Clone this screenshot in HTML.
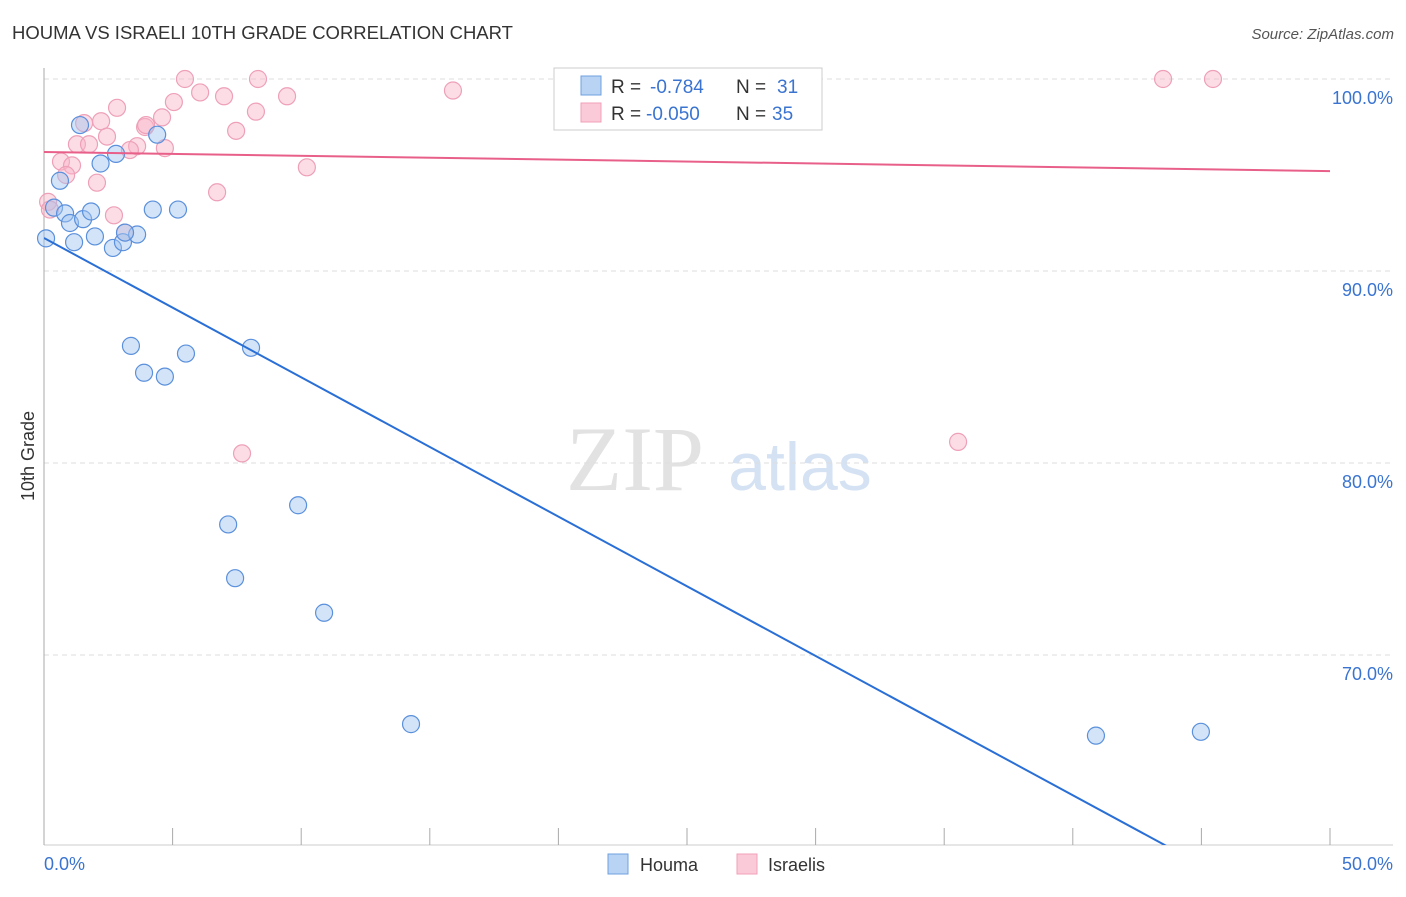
<!DOCTYPE html>
<html><head><meta charset="utf-8"><style>
body{margin:0;background:#fff;font-family:"Liberation Sans",sans-serif;}
</style></head><body>
<svg width="1406" height="892" xmlns="http://www.w3.org/2000/svg" id="svg" style="font-family:'Liberation Sans',sans-serif">
<text x="12" y="39" font-size="18.5" fill="#333">HOUMA VS ISRAELI 10TH GRADE CORRELATION CHART</text>
<text x="1394" y="39" font-size="15" fill="#555" text-anchor="end" font-style="italic">Source: ZipAtlas.com</text>
<text x="635" y="490" font-size="92" fill="#e2e2e2" font-family="Liberation Serif,serif" text-anchor="middle">ZIP</text>
<text x="800" y="490" font-size="68" fill="#d5e2f3" text-anchor="middle">atlas</text>
<text transform="translate(34,456) rotate(-90)" font-size="18" fill="#333" text-anchor="middle">10th Grade</text>
<g id="grid"></g><g id="pts"></g><g id="lines"></g>
<g>
<rect x="554" y="68" width="268" height="62" fill="#fff" stroke="#ccc"/>
<rect x="581" y="76" width="20" height="19" fill="#b8d3f4" stroke="#6fa0e0"/>
<rect x="581" y="103" width="20" height="19" fill="#fbcad8" stroke="#f0a0b8"/>
<text x="611" y="93" font-size="19" fill="#333">R =</text>
<text x="650" y="93" font-size="19" fill="#3a74d0">-0.784</text>
<text x="736" y="93" font-size="19" fill="#333">N =</text>
<text x="777" y="93" font-size="19" fill="#3a74d0">31</text>
<text x="611" y="120" font-size="19" fill="#333">R =</text>
<text x="646" y="120" font-size="19" fill="#3a74d0">-0.050</text>
<text x="736" y="120" font-size="19" fill="#333">N =</text>
<text x="772" y="120" font-size="19" fill="#3a74d0">35</text>
</g>
<g>
<rect x="608" y="854" width="20" height="20" fill="#b8d3f4" stroke="#6fa0e0"/>
<text x="640" y="871" font-size="18" fill="#333">Houma</text>
<rect x="737" y="854" width="20" height="20" fill="#fbcad8" stroke="#f0a0b8"/>
<text x="768" y="871" font-size="18" fill="#333">Israelis</text>
</g>
</svg>
<script>
const yTicks=[100,90,80,70];
const yTickLabels=["100.0%","90.0%","80.0%","70.0%"];
const houmaX=[1.4,2.8,4.4,2.2,0.62,0.39,0.82,1.01,1.52,1.83,0.08,1.17,1.98,2.68,3.07,3.62,4.23,5.21,3.38,3.89,4.7,5.52,8.05,7.16,9.88,7.43,10.89,14.27,40.9,44.98,3.15];
const houmaY=[97.6,96.1,97.1,95.6,94.7,93.3,93.0,92.5,92.7,93.1,91.7,91.5,91.8,91.2,91.5,91.9,93.2,93.2,86.1,84.7,84.5,85.7,86.0,76.8,77.8,74.0,72.2,66.4,65.8,66.0,92.0];
const israX=[5.48,8.32,43.51,45.45,6.07,7.0,9.45,15.9,5.05,2.84,8.24,4.59,2.22,1.56,3.93,7.47,2.45,1.28,1.75,3.62,3.34,4.70,0.66,1.09,0.86,2.06,6.73,10.22,0.16,0.23,2.72,3.15,7.7,35.54,3.97];
const israY=[100,100,100,100,99.3,99.1,99.1,99.4,98.8,98.5,98.3,98.0,97.8,97.7,97.5,97.3,97.0,96.6,96.6,96.5,96.3,96.4,95.7,95.5,95.0,94.6,94.1,95.4,93.6,93.2,92.9,92.0,80.5,81.1,97.6];
const trendX=[0,50];
const houmaTrend=[91.72,55.44];
const israTrend=[96.2,95.2];
const X=v=>44+v/50*1286, Y=v=>79+(100-v)*19.2;
const NS="http://www.w3.org/2000/svg";
function mk(t,a,p){const e=document.createElementNS(NS,t);for(const k in a)e.setAttribute(k,a[k]);p.appendChild(e);return e;}
const g=document.getElementById('grid');
yTicks.forEach((t,i)=>{
 const l=mk('line',{x1:44,x2:1393,y1:Y(t),y2:Y(t),stroke:'#ddd','stroke-dasharray':'5,4'},g);
 
 
 const tx=mk('text',{x:1393,y:Y(t)+25,'font-size':18,fill:'#3a74d0','text-anchor':'end'},g);tx.textContent=yTickLabels[i];
 
 
});
mk('line',{x1:44,x2:44,y1:68,y2:845,stroke:'#aaa'},g);
mk('line',{x1:44,x2:1393,y1:845,y2:845,stroke:'#ccc'},g);
for(let i=0;i<=10;i++){const l=mk('line',{x1:X(i*5),x2:X(i*5),y1:828,y2:845,stroke:'#aaa'},g);
 
 }
let t1=mk('text',{x:44,y:870,'font-size':18,fill:'#3a74d0'},g);t1.textContent='0.0%';


let t2=mk('text',{x:1393,y:870,'font-size':18,fill:'#3a74d0','text-anchor':'end'},g);t2.textContent='50.0%';


const p=document.getElementById('pts');
israX.forEach((x,i)=>{const c=mk('circle',{cx:X(x),cy:Y(israY[i]),r:8.5,fill:'rgba(248,180,200,0.45)',stroke:'#eea0b8','stroke-width':1.2},p);
 
 });
houmaX.forEach((x,i)=>{const c=mk('circle',{cx:X(x),cy:Y(houmaY[i]),r:8.5,fill:'rgba(160,195,240,0.45)',stroke:'#5a90dc','stroke-width':1.2},p);
 
 });
const L=document.getElementById('lines');
const cl=mk('clipPath',{id:'cp'},L);mk('rect',{x:44,y:60,width:1350,height:785},cl);
const hl=mk('line',{x1:X(trendX[0]),y1:Y(houmaTrend[0]),x2:X(trendX[1]),y2:Y(houmaTrend[1]),stroke:'#2a6fd6','stroke-width':2,'clip-path':'url(#cp)'},L);


const il=mk('line',{x1:X(trendX[0]),y1:Y(israTrend[0]),x2:X(trendX[1]),y2:Y(israTrend[1]),stroke:'#e8608a','stroke-width':2},L);


</script>
</body></html>
